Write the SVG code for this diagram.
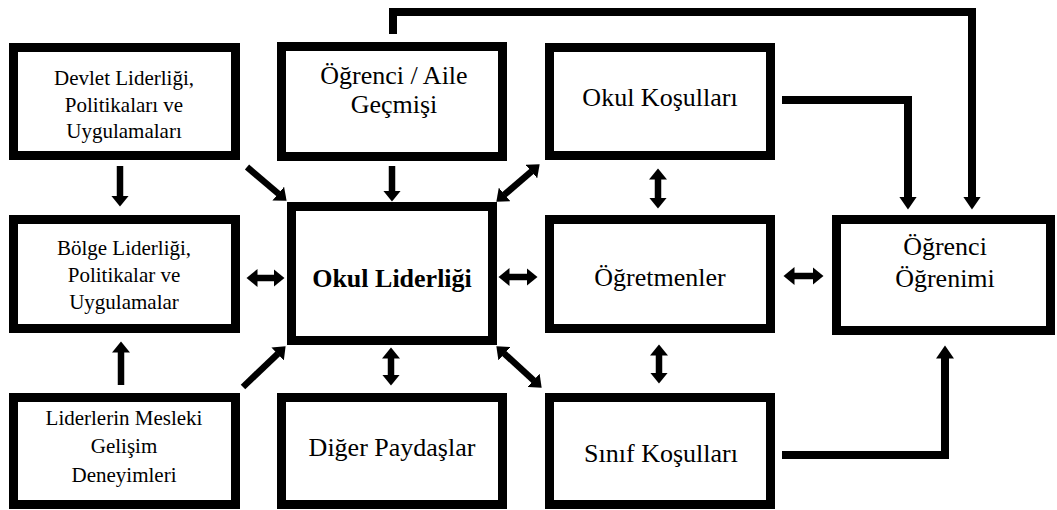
<svg xmlns="http://www.w3.org/2000/svg" width="1057" height="510" viewBox="0 0 1057 510">
<style>
.box{fill:#fff;stroke:#000;stroke-width:9}
.s{font-size:21px}
.l{font-size:26px}
.b{font-weight:bold}
.a{fill:none;stroke:#000;stroke-width:6.5}
.c{fill:none;stroke:#000;stroke-width:8}
</style>
<defs>
<marker id="h" markerUnits="userSpaceOnUse" markerWidth="12" markerHeight="18" refX="0.5" refY="9" orient="auto-start-reverse">
<path d="M0,0 L11,9 L0,18 z" fill="#000"/>
</marker>
<marker id="H" markerUnits="userSpaceOnUse" markerWidth="14" markerHeight="18" refX="0.5" refY="9" orient="auto">
<path d="M0,0 L13,9 L0,18 z" fill="#000"/>
</marker>
</defs>
<rect width="1057" height="510" fill="#fff"/>
<g id="connectors">
<path class="c" d="M393,34 V12 H972 V197" marker-end="url(#H)"/>
<path class="c" d="M782,100 H908 V197" marker-end="url(#H)"/>
<path class="c" d="M782,455 H945 V358" marker-end="url(#H)"/>
<line class="a" x1="120" y1="166" x2="120" y2="196" marker-end="url(#h)"/>
<line class="a" x1="121" y1="385" x2="121" y2="352" marker-end="url(#h)"/>
<line class="a" x1="257" y1="278" x2="274" y2="278" marker-start="url(#h)" marker-end="url(#h)"/>
<line class="a" x1="392" y1="166" x2="392" y2="191" marker-end="url(#h)"/>
<line class="a" x1="247" y1="167" x2="278.6" y2="193.9" marker-end="url(#h)"/>
<line class="a" x1="504.3" y1="194.8" x2="531.7" y2="171.2" marker-start="url(#h)" marker-end="url(#h)"/>
<line class="a" x1="658" y1="179" x2="658" y2="198" marker-start="url(#h)" marker-end="url(#h)"/>
<line class="a" x1="509" y1="277" x2="527" y2="277" marker-start="url(#h)" marker-end="url(#h)"/>
<line class="a" x1="794" y1="276" x2="813" y2="276" marker-start="url(#h)" marker-end="url(#h)"/>
<line class="a" x1="243" y1="387" x2="278" y2="353.6" marker-end="url(#h)"/>
<line class="a" x1="391" y1="358" x2="391" y2="375" marker-start="url(#h)" marker-end="url(#h)"/>
<line class="a" x1="504.1" y1="353.4" x2="533.9" y2="380.6" marker-start="url(#h)" marker-end="url(#h)"/>
<line class="a" x1="659" y1="355" x2="659" y2="373" marker-start="url(#h)" marker-end="url(#h)"/>
</g>
<g font-family="Liberation Serif, Times New Roman, Tinos, Noto Serif, DejaVu Serif, serif" text-anchor="middle" fill="#000">
<g id="devlet">
<rect class="box" x="13.5" y="47.5" width="222" height="108"/>
<text class="s" x="124" y="85">Devlet Liderliği,</text>
<text class="s" x="124" y="112">Politikaları ve</text>
<text class="s" x="124" y="138">Uygulamaları</text>
</g>
<g id="ogrenci-aile">
<rect class="box" x="281.5" y="46.5" width="221" height="110"/>
<text class="l" x="394" y="84">Öğrenci / Aile</text>
<text class="l" x="394" y="113">Geçmişi</text>
</g>
<g id="okul-kosullari">
<rect class="box" x="549.5" y="47.5" width="221" height="108"/>
<text class="l" x="660" y="106">Okul Koşulları</text>
</g>
<g id="bolge">
<rect class="box" x="13.5" y="219.5" width="222" height="109"/>
<text class="s" x="124" y="255">Bölge Liderliği,</text>
<text class="s" x="124" y="282">Politikalar ve</text>
<text class="s" x="124" y="309">Uygulamalar</text>
</g>
<g id="okul-liderligi">
<rect class="box" x="291.5" y="206.5" width="201" height="134"/>
<text class="l b" x="392" y="287">Okul Liderliği</text>
</g>
<g id="ogretmenler">
<rect class="box" x="549.5" y="219.5" width="221" height="109"/>
<text class="l" x="660" y="286">Öğretmenler</text>
</g>
<g id="ogrenci-ogrenimi">
<rect class="box" x="836.5" y="219.5" width="214" height="111"/>
<text class="l" x="945" y="255">Öğrenci</text>
<text class="l" x="945" y="287">Öğrenimi</text>
</g>
<g id="liderlerin">
<rect class="box" x="13.5" y="397.5" width="222" height="107"/>
<text class="s" x="124" y="425">Liderlerin Mesleki</text>
<text class="s" x="124" y="453">Gelişim</text>
<text class="s" x="124" y="482">Deneyimleri</text>
</g>
<g id="diger">
<rect class="box" x="281.5" y="397.5" width="221" height="107"/>
<text class="l" x="392" y="456">Diğer Paydaşlar</text>
</g>
<g id="sinif">
<rect class="box" x="549.5" y="397.5" width="221" height="107"/>
<text class="l" x="661" y="462">Sınıf Koşulları</text>
</g>
</g>
</svg>
